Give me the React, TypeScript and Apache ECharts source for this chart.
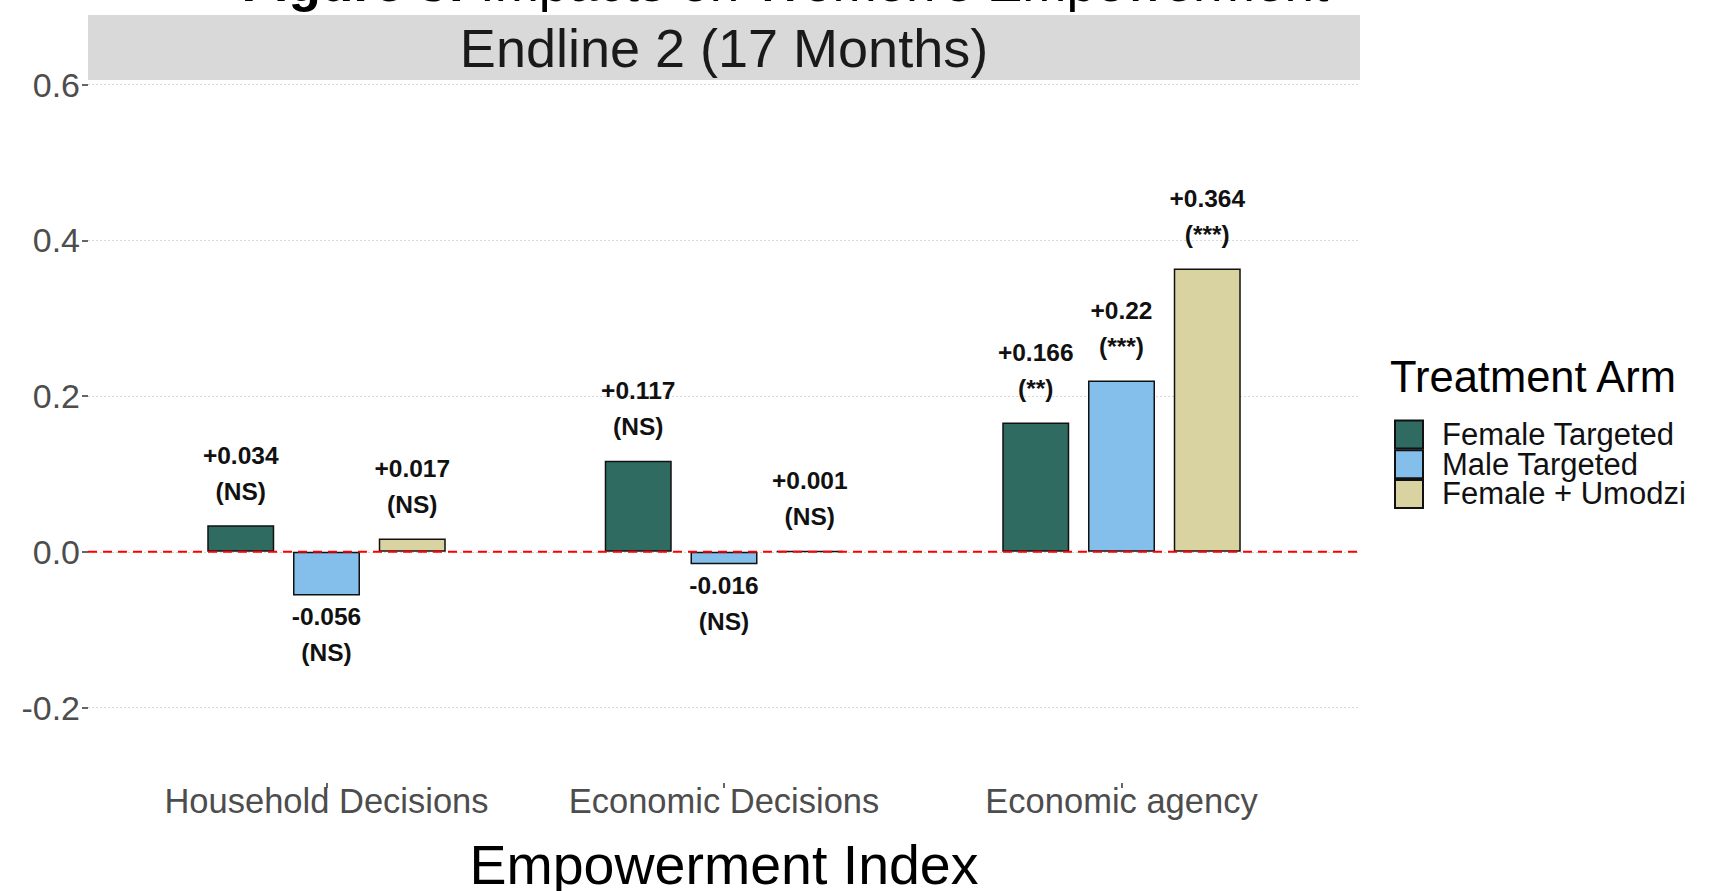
import React, { useEffect, useRef } from "react";
import * as echarts from "echarts";

const categories = ["Household Decisions", "Economic Decisions", "Economic agency"];
const seriesNames = ["Female Targeted", "Male Targeted", "Female + Umodzi"];
const femaleTargeted = [0.034, 0.117, 0.166];
const maleTargeted = [-0.056, -0.016, 0.22];
const femaleUmodzi = [0.017, 0.001, 0.364];
const femaleTargetedSig = ["NS", "NS", "**"];
const maleTargetedSig = ["NS", "NS", "***"];
const femaleUmodziSig = ["NS", "NS", "***"];
const seriesColors = ["#2F6B60", "#83BFEA", "#D8D3A0"];
const yMin = -0.2;
const yMax = 0.6;
const yInterval = 0.2;
const zeroLine = [[0, 0], [1, 0]];

const FONT = "'Liberation Sans', Arial, Helvetica, sans-serif";

// layout constants (pixels)
const ZERO_Y = 551.8;
const PX_PER_UNIT = 778.5;
const PANEL_TOP = 80;
const PANEL_BOTTOM = 783;
const PANEL_LEFT = 88;
const PANEL_RIGHT = 1360;
const UNIT_X = (PANEL_RIGHT - PANEL_LEFT) / 3.2;

export default function App() {
  const ref = useRef<HTMLDivElement>(null);
  useEffect(() => {
    if (!ref.current) return;
    const chart = echarts.init(ref.current, null, { renderer: "svg" });
    const values = [femaleTargeted, maleTargeted, femaleUmodzi];
    const sigs = [femaleTargetedSig, maleTargetedSig, femaleUmodziSig];
    const fmt = (v: number) => (v > 0 ? "+" + v : String(v));

    const barSeries = seriesNames.map((name, si) => ({
      name,
      type: "bar",
      xAxisIndex: 1,
      yAxisIndex: 1,
      barWidth: 67,
      barGap: "28%",
      itemStyle: { color: seriesColors[si], borderColor: "#111", borderWidth: 1.5 },
      data: values[si].map((v, i) => ({
        value: v,
        label: {
          show: true,
          position: v >= 0 ? "top" : "bottom",
          distance: v >= 0 ? 16 : 3,
          formatter: fmt(v) + "\n(" + sigs[si][i] + ")",
          fontFamily: FONT,
          fontWeight: "bold",
          fontSize: 24.5,
          lineHeight: 36,
          color: "#111",
        },
      })),
    }));

    const gridLabelTop = ZERO_Y - yMax * PX_PER_UNIT;
    const gridLabelHeight = (yMax - yMin) * PX_PER_UNIT;

    chart.setOption({
      animation: false,
      backgroundColor: "#ffffff",
      grid: [
        { left: PANEL_LEFT, top: gridLabelTop, width: PANEL_RIGHT - PANEL_LEFT, height: gridLabelHeight },
        {
          left: PANEL_LEFT + 0.1 * UNIT_X,
          top: PANEL_TOP,
          width: 3 * UNIT_X,
          height: PANEL_BOTTOM - PANEL_TOP,
        },
      ],
      xAxis: [
        { type: "value", gridIndex: 0, min: 0, max: 1, show: false },
        {
          type: "category",
          gridIndex: 1,
          data: categories,
          position: "bottom",
          axisLine: { show: false, onZero: false },
          axisTick: { show: true, alignWithLabel: true, length: 5, lineStyle: { color: "#333", width: 1.5 } },
          axisLabel: { fontFamily: FONT, fontSize: 34.5, color: "#4d4d4d", margin: 0, interval: 0 },
        },
      ],
      yAxis: [
        {
          type: "value",
          gridIndex: 0,
          min: yMin,
          max: yMax,
          interval: yInterval,
          axisLine: { show: false },
          axisTick: { show: true, length: 6, lineStyle: { color: "#333", width: 1.5 } },
          axisLabel: {
            fontFamily: FONT,
            fontSize: 34,
            color: "#4d4d4d",
            margin: 8,
            formatter: (v: number) => v.toFixed(1),
          },
          splitLine: { show: true, lineStyle: { color: "#d9d9d9", width: 1, type: [2, 2] } },
        },
        {
          type: "value",
          gridIndex: 1,
          min: -(PANEL_BOTTOM - ZERO_Y) / PX_PER_UNIT,
          max: (ZERO_Y - PANEL_TOP) / PX_PER_UNIT,
          show: false,
          splitLine: { show: false },
        },
      ],
      legend: {
        orient: "vertical",
        left: 1389,
        top: 414,
        icon: "rect",
        itemWidth: 28,
        itemHeight: 28,
        itemGap: -1.3,
        selectedMode: false,
        data: seriesNames,
        textStyle: {
          fontFamily: FONT,
          fontSize: 31,
          lineHeight: 28,
          color: "#111",
          padding: [0, 0, 0, 14],
        },
      },
      graphic: [
        {
          type: "rect",
          shape: { x: PANEL_LEFT, y: 15, width: PANEL_RIGHT - PANEL_LEFT, height: PANEL_TOP - 15 },
          style: { fill: "#d9d9d9" },
          z: 0,
        },
        {
          type: "text",
          x: (PANEL_LEFT + PANEL_RIGHT) / 2,
          y: 48,
          style: {
            text: "Endline 2 (17 Months)",
            fontFamily: FONT,
            fontSize: 54,
            fill: "#1a1a1a",
            align: "center",
            verticalAlign: "middle",
          },
        },
        {
          type: "text",
          x: 785,
          y: -18,
          style: {
            text: "{b|Figure 3:} Impacts on Women's Empowerment",
            fontFamily: FONT,
            fontSize: 53,
            fill: "#000",
            align: "center",
            verticalAlign: "middle",
            rich: { b: { fontFamily: FONT, fontSize: 53, fontWeight: "bold", fill: "#000" } },
          },
        },
        {
          type: "text",
          x: 1390,
          y: 377,
          style: {
            text: "Treatment Arm",
            fontFamily: FONT,
            fontSize: 43.5,
            fill: "#000",
            align: "left",
            verticalAlign: "middle",
          },
        },
        {
          type: "text",
          x: (PANEL_LEFT + PANEL_RIGHT) / 2,
          y: 865,
          style: {
            text: "Empowerment Index",
            fontFamily: FONT,
            fontSize: 55.5,
            fill: "#000",
            align: "center",
            verticalAlign: "middle",
          },
        },
      ],
      series: [
        {
          type: "line",
          xAxisIndex: 0,
          yAxisIndex: 0,
          data: zeroLine,
          showSymbol: false,
          silent: true,
          z: 10,
          lineStyle: { color: "#ff0000", width: 2, type: [9, 6] },
        },
        ...barSeries,
      ],
    });
    return () => chart.dispose();
  }, []);
  return (
    <div
      ref={ref}
      style={{ position: "fixed", left: 0, top: 0, width: 1727, height: 891, background: "#fff" }}
    />
  );
}
